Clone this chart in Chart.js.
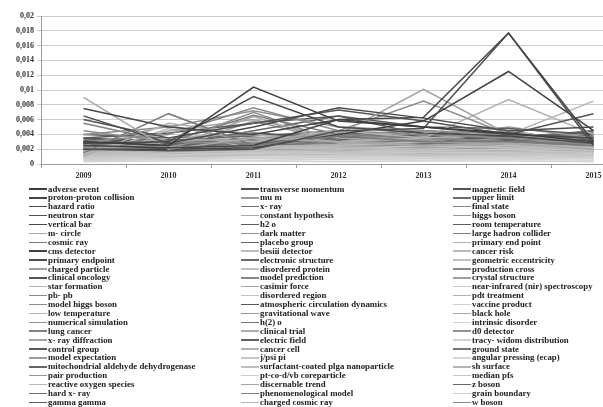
<!DOCTYPE html>
<html>
<head>
<meta charset="utf-8">
<script src="https://cdn.jsdelivr.net/npm/chart.js@4.4.1/dist/chart.umd.min.js"></script>
<style>
  html, body { margin: 0; padding: 0; background: #fff; overflow: hidden; width: 603px; height: 407px; }
  #wrap { position: absolute; left: 0; top: 0; width: 640px; height: 185px; }
  #legend {
    position: absolute; left: 29px; top: 184.5px;
    display: grid; grid-template-columns: repeat(3, 212px);
    grid-template-rows: repeat(25, 8.9px); grid-auto-flow: column;
    font-family: "Liberation Serif", serif; font-size: 8.8px; font-weight: bold; color: #222;
  }
  .item { display: flex; align-items: center; white-space: nowrap; line-height: 8.9px; height: 8.9px; }
  .sw { display: inline-block; width: 18px; height: 1.5px; margin-right: 1px; flex: none; }
</style>
</head>
<body>
<div id="wrap"><canvas id="c" width="640" height="185"></canvas></div>
<div id="legend"></div>
<script>
const years = ["2009", "2010", "2011", "2012", "2013", "2014", "2015"];
const yTicks = [0, 0.002, 0.004, 0.006, 0.008, 0.01, 0.012, 0.014, 0.016, 0.018, 0.02];

const terms = [
  "adverse event", "proton-proton collision", "hazard ratio", "neutron star", "vertical bar",
  "m- circle", "cosmic ray", "cms detector", "primary endpoint", "charged particle",
  "clinical oncology", "star formation", "pb- pb", "model higgs boson", "low temperature",
  "numerical simulation", "lung cancer", "x- ray diffraction", "control group", "model expectation",
  "mitochondrial aldehyde dehydrogenase", "pair production", "reactive oxygen species", "hard x- ray", "gamma gamma",
  "transverse momentum", "mu m", "x- ray", "constant hypothesis", "h2 o",
  "dark matter", "placebo group", "besiii detector", "electronic structure", "disordered protein",
  "model prediction", "casimir force", "disordered region", "atmospheric circulation dynamics", "gravitational wave",
  "h(2) o", "clinical trial", "electric field", "cancer cell", "j/psi pi",
  "surfactant-coated plga nanoparticle", "pt-co-d/vb coreparticle", "discernable trend", "phenomenological model", "charged cosmic ray",
  "magnetic field", "upper limit", "final state", "higgs boson", "room temperature",
  "large hadron collider", "primary end point", "cancer risk", "geometric eccentricity", "production cross",
  "crystal structure", "near-infrared (nir) spectroscopy", "pdt treatment", "vaccine product", "black hole",
  "intrinsic disorder", "d0 detector", "tracy- widom distribution", "ground state", "angular pressing (ecap)",
  "sh surface", "median pfs", "z boson", "grain boundary", "w boson"
];

const values = [
  [0.0030, 0.0025, 0.0104, 0.0058, 0.0050, 0.0042, 0.0030],
  [0.0025, 0.0022, 0.0025, 0.0060, 0.0063, 0.0177, 0.0030],
  [0.0028, 0.0030, 0.0091, 0.0050, 0.0042, 0.0038, 0.0028],
  [0.0020, 0.0018, 0.0020, 0.0045, 0.0048, 0.0177, 0.0025],
  [0.0075, 0.0050, 0.0040, 0.0060, 0.0050, 0.0040, 0.0035],
  [0.0090, 0.0020, 0.0035, 0.0030, 0.0025, 0.0028, 0.0020],
  [0.0015, 0.0068, 0.0025, 0.0038, 0.0030, 0.0030, 0.0025],
  [0.0020, 0.0020, 0.0022, 0.0040, 0.0058, 0.0125, 0.0045],
  [0.0065, 0.0028, 0.0050, 0.0076, 0.0062, 0.0045, 0.0050],
  [0.0018, 0.0030, 0.0035, 0.0040, 0.0101, 0.0040, 0.0030],
  [0.0060, 0.0035, 0.0055, 0.0073, 0.0058, 0.0040, 0.0068],
  [0.0020, 0.0035, 0.0030, 0.0045, 0.0035, 0.0087, 0.0040],
  [0.0030, 0.0040, 0.0076, 0.0045, 0.0040, 0.0035, 0.0030],
  [0.0045, 0.0030, 0.0028, 0.0045, 0.0085, 0.0040, 0.0030],
  [0.0010, 0.0055, 0.0040, 0.0030, 0.0035, 0.0040, 0.0085],
  [0.0040, 0.0050, 0.0072, 0.0050, 0.0045, 0.0040, 0.0030],
  [0.0055, 0.0030, 0.0066, 0.0040, 0.0035, 0.0030, 0.0028],
  [0.0012, 0.0045, 0.0060, 0.0035, 0.0030, 0.0045, 0.0025],
  [0.0035, 0.0042, 0.0055, 0.0065, 0.0050, 0.0048, 0.0040],
  [0.0025, 0.0052, 0.0030, 0.0040, 0.0032, 0.0050, 0.0035],
  [0.0030, 0.0025, 0.0045, 0.0065, 0.0040, 0.0035, 0.0045],
  [0.0022, 0.0035, 0.0040, 0.0030, 0.0045, 0.0042, 0.0030],
  [0.0010, 0.0048, 0.0020, 0.0025, 0.0030, 0.0028, 0.0022],
  [0.0028, 0.0020, 0.0030, 0.0035, 0.0028, 0.0030, 0.0040],
  [0.0032, 0.0028, 0.0035, 0.0032, 0.0040, 0.0035, 0.0032],
  [0.0030, 0.0032, 0.0040, 0.0038, 0.0035, 0.0040, 0.0030],
  [0.0025, 0.0020, 0.0058, 0.0030, 0.0028, 0.0035, 0.0025],
  [0.0022, 0.0030, 0.0025, 0.0042, 0.0030, 0.0028, 0.0035],
  [0.0018, 0.0022, 0.0064, 0.0028, 0.0025, 0.0030, 0.0020],
  [0.0030, 0.0025, 0.0028, 0.0035, 0.0040, 0.0032, 0.0045],
  [0.0020, 0.0028, 0.0070, 0.0030, 0.0028, 0.0045, 0.0028],
  [0.0040, 0.0035, 0.0030, 0.0040, 0.0045, 0.0035, 0.0032],
  [0.0015, 0.0020, 0.0025, 0.0022, 0.0020, 0.0025, 0.0020],
  [0.0028, 0.0032, 0.0038, 0.0045, 0.0032, 0.0040, 0.0038],
  [0.0012, 0.0018, 0.0022, 0.0020, 0.0025, 0.0022, 0.0018],
  [0.0024, 0.0028, 0.0035, 0.0028, 0.0035, 0.0030, 0.0025],
  [0.0020, 0.0024, 0.0020, 0.0025, 0.0022, 0.0028, 0.0022],
  [0.0010, 0.0015, 0.0018, 0.0016, 0.0018, 0.0020, 0.0015],
  [0.0035, 0.0030, 0.0042, 0.0035, 0.0030, 0.0038, 0.0042],
  [0.0018, 0.0025, 0.0028, 0.0032, 0.0028, 0.0024, 0.0030],
  [0.0026, 0.0020, 0.0024, 0.0030, 0.0034, 0.0030, 0.0028],
  [0.0022, 0.0018, 0.0030, 0.0026, 0.0022, 0.0026, 0.0024],
  [0.0030, 0.0034, 0.0030, 0.0028, 0.0026, 0.0034, 0.0036],
  [0.0016, 0.0022, 0.0026, 0.0024, 0.0020, 0.0018, 0.0022],
  [0.0008, 0.0012, 0.0015, 0.0014, 0.0016, 0.0015, 0.0012],
  [0.0012, 0.0010, 0.0012, 0.0015, 0.0012, 0.0014, 0.0016],
  [0.0006, 0.0010, 0.0012, 0.0010, 0.0012, 0.0010, 0.0014],
  [0.0020, 0.0016, 0.0018, 0.0022, 0.0024, 0.0020, 0.0018],
  [0.0024, 0.0026, 0.0022, 0.0020, 0.0028, 0.0032, 0.0026],
  [0.0014, 0.0018, 0.0020, 0.0018, 0.0015, 0.0022, 0.0020],
  [0.0030, 0.0028, 0.0034, 0.0040, 0.0036, 0.0042, 0.0034],
  [0.0026, 0.0030, 0.0028, 0.0034, 0.0030, 0.0036, 0.0030],
  [0.0022, 0.0026, 0.0032, 0.0030, 0.0026, 0.0032, 0.0028],
  [0.0018, 0.0022, 0.0026, 0.0028, 0.0032, 0.0030, 0.0026],
  [0.0034, 0.0028, 0.0026, 0.0032, 0.0028, 0.0026, 0.0030],
  [0.0028, 0.0024, 0.0030, 0.0026, 0.0030, 0.0028, 0.0024],
  [0.0016, 0.0020, 0.0024, 0.0020, 0.0022, 0.0024, 0.0020],
  [0.0012, 0.0016, 0.0018, 0.0020, 0.0018, 0.0016, 0.0014],
  [0.0010, 0.0012, 0.0016, 0.0014, 0.0012, 0.0018, 0.0016],
  [0.0024, 0.0020, 0.0022, 0.0024, 0.0020, 0.0022, 0.0026],
  [0.0020, 0.0022, 0.0020, 0.0018, 0.0024, 0.0020, 0.0022],
  [0.0008, 0.0010, 0.0012, 0.0011, 0.0010, 0.0012, 0.0010],
  [0.0014, 0.0012, 0.0014, 0.0012, 0.0014, 0.0012, 0.0012],
  [0.0005, 0.0008, 0.0010, 0.0008, 0.0008, 0.0010, 0.0008],
  [0.0018, 0.0015, 0.0016, 0.0018, 0.0016, 0.0018, 0.0017],
  [0.0006, 0.0007, 0.0008, 0.0006, 0.0007, 0.0008, 0.0007],
  [0.0022, 0.0018, 0.0020, 0.0016, 0.0018, 0.0016, 0.0020],
  [0.0004, 0.0006, 0.0005, 0.0006, 0.0005, 0.0006, 0.0005],
  [0.0026, 0.0022, 0.0024, 0.0028, 0.0022, 0.0026, 0.0024],
  [0.0003, 0.0004, 0.0004, 0.0003, 0.0004, 0.0004, 0.0003],
  [0.0016, 0.0014, 0.0012, 0.0014, 0.0016, 0.0014, 0.0016],
  [0.0012, 0.0014, 0.0016, 0.0015, 0.0013, 0.0012, 0.0014],
  [0.0030, 0.0026, 0.0028, 0.0024, 0.0026, 0.0030, 0.0028],
  [0.0008, 0.0009, 0.0010, 0.0009, 0.0010, 0.0009, 0.0010],
  [0.0024, 0.0028, 0.0026, 0.0030, 0.0026, 0.0024, 0.0032]
];

const shades = [
  "#3c3c3c", "#444444", "#4a4a4a", "#505050", "#484848", "#a8a8a8", "#7a7a7a", "#404040", "#4c4c4c", "#a0a0a0",
  "#555555", "#b0b0b0", "#8a8a8a", "#8c8c8c", "#b4b4b4", "#909090", "#808080", "#a4a4a4", "#5a5a5a", "#9c9c9c",
  "#666666", "#949494", "#b8b8b8", "#6e6e6e", "#5e5e5e", "#505050", "#9a9a9a", "#727272", "#aaaaaa", "#5c5c5c",
  "#8e8e8e", "#646464", "#bcbcbc", "#6a6a6a", "#c0c0c0", "#868686", "#a6a6a6", "#c4c4c4", "#585858", "#989898",
  "#767676", "#acacac", "#626262", "#b2b2b2", "#c8c8c8", "#bebebe", "#cccccc", "#a2a2a2", "#7e7e7e", "#b6b6b6",
  "#545454", "#6c6c6c", "#848484", "#969696", "#606060", "#7c7c7c", "#aeaeae", "#bababa", "#c2c2c2", "#8a8a8a",
  "#9e9e9e", "#cacaca", "#b0b0b0", "#d0d0d0", "#a8a8a8", "#d2d2d2", "#929292", "#d4d4d4", "#747474", "#d6d6d6",
  "#b4b4b4", "#c6c6c6", "#686868", "#cecece", "#888888"
];

const datasets = terms.map((t, i) => ({
  label: t,
  data: values[i],
  borderColor: shades[i],
  backgroundColor: shades[i],
  borderWidth: 1.5,
  pointRadius: 0,
  fill: false,
  tension: 0
}));

const fmt = v => {
  const n = Number(v.toFixed(4));
  return n === 0 ? "0" : String(n).replace(".", ",");
};

const chart = new Chart(document.getElementById("c"), {
  type: "line",
  data: { labels: years, datasets },
  options: {
    responsive: false,
    animation: false,
    devicePixelRatio: 1,
    layout: { padding: { top: 16, right: 4, left: 0, bottom: 0 } },
    plugins: { legend: { display: false }, tooltip: { enabled: false } },
    scales: {
      x: {
        offset: true,
        grid: { display: true, offset: true, drawOnChartArea: false, tickLength: 4, color: "#9a9a9a" },
        border: { color: "#9a9a9a" },
        ticks: { font: { family: "Liberation Serif", size: 8, weight: "bold" }, color: "#333", padding: 3, maxRotation: 0 },
        afterFit: s => { s.height = 21; }
      },
      y: {
        min: 0, max: 0.02,
        afterBuildTicks: s => { s.ticks = yTicks.map(v => ({ value: v })); },
        grid: { color: "#cdcdcd", tickLength: 4 },
        border: { color: "#9a9a9a" },
        ticks: { font: { family: "Liberation Serif", size: 8, weight: "bold" }, color: "#333", padding: 3, callback: v => fmt(v) },
        afterFit: s => { s.width = 41; }
      }
    }
  }
});

const legend = document.getElementById("legend");
chart.data.datasets.forEach(ds => {
  const item = document.createElement("div");
  item.className = "item";
  const sw = document.createElement("span");
  sw.className = "sw";
  sw.style.background = ds.borderColor;
  const tx = document.createElement("span");
  tx.textContent = ds.label;
  item.appendChild(sw);
  item.appendChild(tx);
  legend.appendChild(item);
});
</script>
</body>
</html>
